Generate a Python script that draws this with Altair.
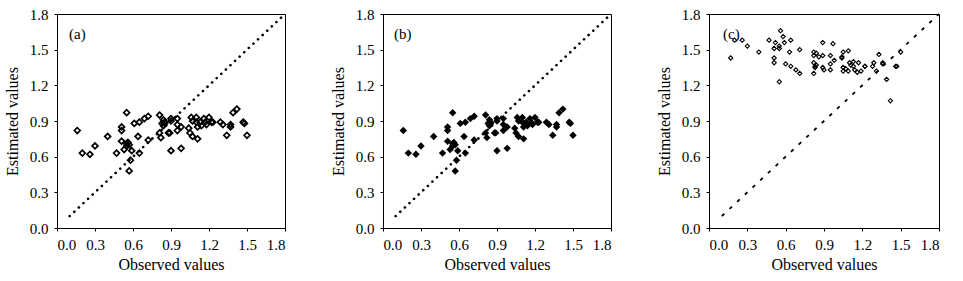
import altair as alt
import pandas as pd

# ---- data ----
obs_ab = [0.16, 0.20, 0.26, 0.30, 0.40, 0.47, 0.51, 0.51, 0.51, 0.53, 0.55, 0.55, 0.56, 0.55,
          0.58, 0.57, 0.59, 0.61, 0.64, 0.65, 0.65, 0.69, 0.72, 0.72, 0.81, 0.81, 0.82, 0.84,
          0.83, 0.84, 0.85, 0.88, 0.89, 0.90, 0.90, 0.90, 0.95, 0.95, 0.95, 0.98, 0.98, 1.04,
          1.05, 1.06, 1.07, 1.07, 1.10, 1.10, 1.11, 1.11, 1.13, 1.14, 1.16, 1.17, 1.18, 1.20,
          1.22, 1.23, 1.29, 1.31, 1.34, 1.37, 1.37, 1.39, 1.42, 1.47, 1.48, 1.50, 0.57, 0.85]
est_ab = [0.82, 0.63, 0.62, 0.69, 0.77, 0.63, 0.85, 0.82, 0.73, 0.66, 0.97, 0.71, 0.72, 0.69,
          0.57, 0.48, 0.65, 0.88, 0.77, 0.89, 0.63, 0.92, 0.94, 0.74, 0.95, 0.80, 0.76, 0.91,
          0.88, 0.86, 0.89, 0.80, 0.80, 0.92, 0.90, 0.65, 0.92, 0.87, 0.82, 0.85, 0.67, 0.84,
          0.80, 0.93, 0.77, 0.90, 0.89, 0.93, 0.75, 0.85, 0.89, 0.86, 0.92, 0.89, 0.87, 0.93,
          0.89, 0.89, 0.89, 0.87, 0.78, 0.87, 0.85, 0.97, 1.00, 0.89, 0.88, 0.78, 0.70, 0.88]

obs_c = [0.17, 0.20, 0.26, 0.30, 0.39, 0.47, 0.51, 0.51, 0.51, 0.52, 0.55, 0.55, 0.55, 0.56,
         0.58, 0.59, 0.60, 0.63, 0.64, 0.64, 0.68, 0.71, 0.71, 0.82, 0.82, 0.82, 0.82, 0.83,
         0.83, 0.84, 0.86, 0.89, 0.89, 0.89, 0.90, 0.95, 0.95, 0.95, 0.97, 0.98, 1.04, 1.04,
         1.05, 1.05, 1.05, 1.07, 1.09, 1.10, 1.09, 1.11, 1.13, 1.13, 1.14, 1.16, 1.17, 1.19,
         1.22, 1.22, 1.28, 1.29, 1.31, 1.33, 1.36, 1.36, 1.39, 1.42, 1.46, 1.47, 1.50, 0.84]
est_c = [1.43, 1.58, 1.58, 1.53, 1.48, 1.58, 1.51, 1.43, 1.39, 1.56, 1.53, 1.51, 1.23, 1.66,
         1.61, 1.56, 1.38, 1.48, 1.58, 1.36, 1.33, 1.50, 1.30, 1.48, 1.45, 1.30, 1.39, 1.36,
         1.35, 1.37, 1.44, 1.56, 1.45, 1.35, 1.33, 1.45, 1.38, 1.33, 1.55, 1.41, 1.44, 1.43,
         1.48, 1.35, 1.32, 1.34, 1.49, 1.39, 1.32, 1.37, 1.40, 1.36, 1.33, 1.31, 1.39, 1.32,
         1.36, 1.36, 1.36, 1.39, 1.32, 1.46, 1.39, 1.38, 1.25, 1.07, 1.36, 1.36, 1.48, 1.47]

diag = [0.1, 1.8]
ticks = [0.0, 0.3, 0.6, 0.9, 1.2, 1.5, 1.8]
labels = ["(a)", "(b)", "(c)"]

FONT = "Liberation Serif"


def panel(obs, est, label, filled, size, stroke_w, dash, dash_w, dash_cap, width, lx):
    df = pd.DataFrame({"obs": obs, "est": est})
    ddf = pd.DataFrame({"obs": diag, "est": diag})
    xenc = alt.X("obs:Q", scale=alt.Scale(domain=[0, 1.8], nice=False, zero=False),
                 axis=alt.Axis(values=ticks, format=".1f", title="Observed values"))
    yenc = alt.Y("est:Q", scale=alt.Scale(domain=[0, 1.8], nice=False, zero=False),
                 axis=alt.Axis(values=ticks, format=".1f", title="Estimated values"))
    pts = alt.Chart(df).mark_point(
        shape="diamond", filled=filled, size=size, color="black",
        strokeWidth=stroke_w, opacity=1
    ).encode(x=xenc, y=yenc)
    line = alt.Chart(ddf).mark_line(
        color="black", strokeWidth=dash_w, strokeDash=dash, strokeCap=dash_cap
    ).encode(x=xenc, y=yenc)
    txt = alt.Chart(pd.DataFrame({"t": [label]})).mark_text(
        align="left", baseline="middle", font=FONT, fontSize=15, color="black"
    ).encode(x=alt.value(lx), y=alt.value(20), text="t:N")
    return alt.layer(line, pts, txt).properties(width=width, height=214)


pa = panel(obs_ab, est_ab, labels[0], False, 34, 1.7, [0.1, 6.2], 2.6, "round", 228, 12)
pb = panel(obs_ab, est_ab, labels[1], True, 55, 1.0, [0.1, 6.2], 2.6, "round", 228, 11)
pc = panel(obs_c, est_c, labels[2], False, 18, 1.1, [3.5, 7], 1.8, "butt", 230, 14)

chart = alt.hconcat(pa, pb, pc, spacing=98, bounds="flush").properties(
    padding={"left": 3, "top": 6, "right": 5, "bottom": 5},
    background="white",
).configure_view(
    stroke="black", strokeWidth=1
).configure_axis(
    grid=False, domainColor="black", domainWidth=1, tickColor="black", tickSize=3,
    labelColor="black", titleColor="black", labelFont=FONT, titleFont=FONT,
    labelFontSize=15, titleFontSize=16, titleFontWeight="normal",
).configure_axisX(
    labelPadding=6, titlePadding=4
).configure_axisY(
    labelPadding=6, titlePadding=9
)

chart.save("out.html", embed_options={"renderer": "svg", "actions": False})
